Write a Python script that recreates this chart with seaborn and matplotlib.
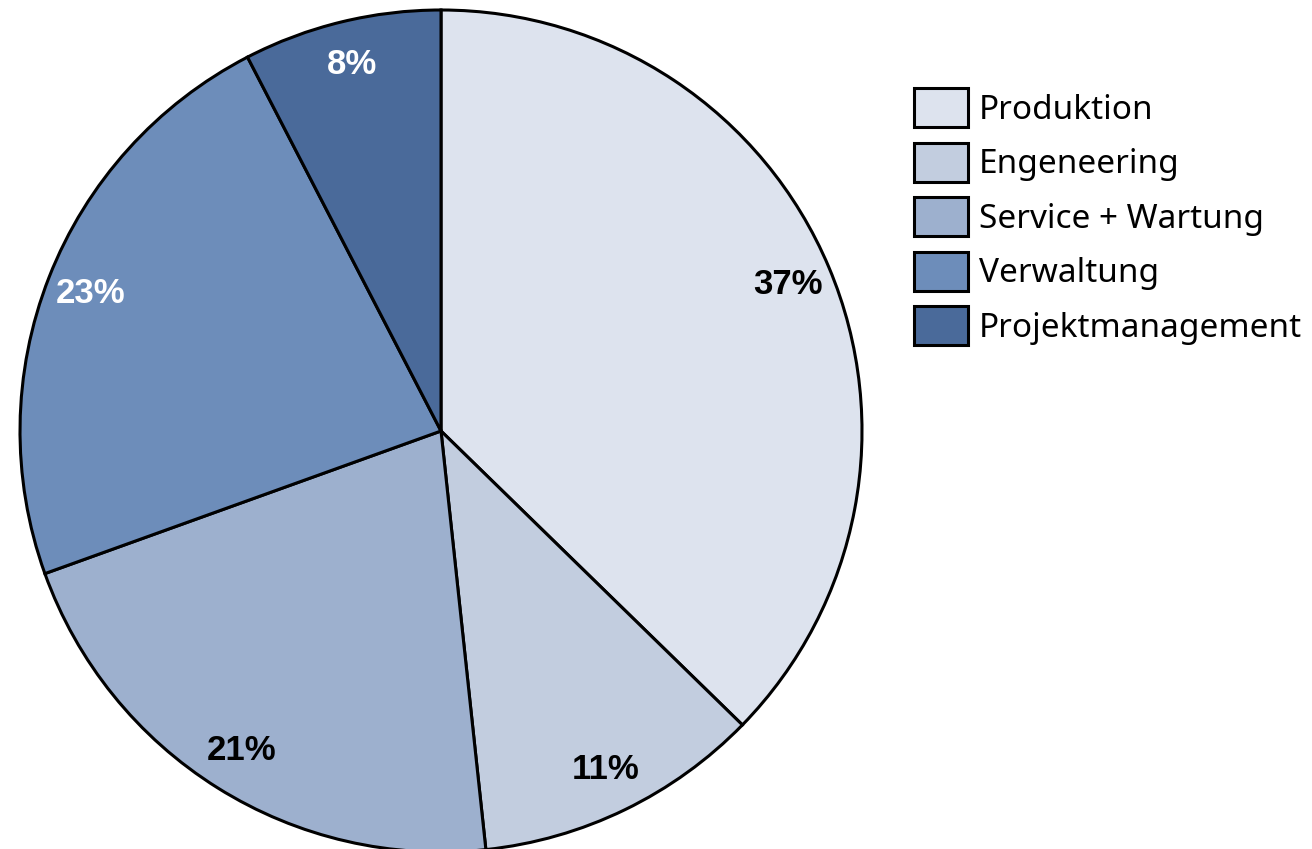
import matplotlib
matplotlib.use("Agg")
import matplotlib.pyplot as plt
import seaborn as sns

# data
categories = ["Produktion", "Engeneering", "Service + Wartung", "Verwaltung", "Projektmanagement"]
shares = [37.3, 11.0, 21.2, 22.9, 7.6]
colors = ["#DDE3EE", "#C2CDDF", "#9DB0CE", "#6D8DBA", "#4A6A9A"]
label_colors = ["black", "black", "black", "white", "white"]

sns.set_theme(style="white")
plt.rcParams['font.family'] = ['Noto Sans', 'DejaVu Sans']
plt.rcParams['text.color'] = 'black'

fig = plt.figure(figsize=(13.12, 8.49), dpi=100)
W, H = 1312, 849
cx, cy, r = 441, 431, 421
ax = fig.add_axes([(cx - r) / W, 1 - (cy + r) / H, 2 * r / W, 2 * r / H])

wedges, texts, autotexts = ax.pie(
    shares, colors=colors, startangle=90, counterclock=False,
    autopct=lambda p: f"{p:.0f}%", pctdistance=0.895, radius=1,
    wedgeprops=dict(edgecolor="black", linewidth=2.2),
    textprops=dict(fontsize=25, fontweight="bold", family="Liberation Sans"),
)
for t, c in zip(autotexts, label_colors):
    t.set_color(c)
ax.set_xlim(-1, 1)
ax.set_ylim(-1, 1)
ax.set_aspect("equal")
ax.axis("off")

leg = fig.legend(wedges, categories, loc="upper left",
                 bbox_to_anchor=(914 / W, 1 - 88 / H), bbox_transform=fig.transFigure,
                 frameon=False, borderpad=0, borderaxespad=0,
                 fontsize=24, handlelength=1.62, handleheight=1.42,
                 labelspacing=0.47, handletextpad=0.33)
for t in leg.get_texts():
    t.set_color("black")

fig.savefig("out.png", dpi=100)
